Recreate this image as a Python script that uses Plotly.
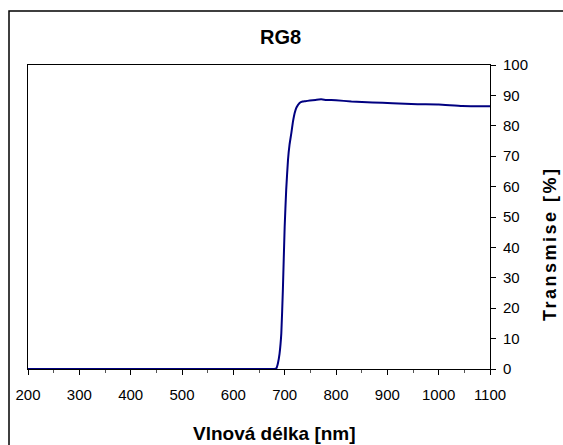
import plotly.graph_objects as go

# Data
wavelength = [200, 300, 400, 500, 600, 650, 680, 684, 687, 690, 693.5, 696.5, 700, 703,
              706.5, 709.5, 713, 716, 719.5, 723, 729, 735, 740, 749, 760, 771, 781,
              800, 830, 871, 910, 959, 1000, 1046, 1100]
transmission = [0, 0, 0, 0, 0, 0, 0, 0.3, 2, 5, 11.8, 26, 46.8, 59,
                68.8, 73.8, 77.6, 81.2, 84.2, 86.0, 87.5, 88.0, 88.1, 88.3, 88.5, 88.7, 88.5,
                88.4, 88.0, 87.7, 87.4, 87.1, 87.0, 86.5, 86.4]

title_text = "RG8"
x_title = "Vlnová délka [nm]"
y_title = "Transmise [%]"

W, H = 563, 445
L, R, T, B = 28, 490, 65, 369  # plot area pixels

def px(x):
    return (x - L) / (R - L)

def py(y):
    return (B - y) / (B - T)

fig = go.Figure()
fig.add_trace(go.Scatter(x=wavelength, y=transmission, mode="lines",
                         line=dict(color="#000080", width=2, shape="spline", smoothing=0.4),
                         showlegend=False))

font_family = "Liberation Sans, Arial, sans-serif"

fig.update_layout(
    width=W, height=H,
    margin=dict(l=L, r=W - R, t=T, b=H - B, pad=0),
    paper_bgcolor="white", plot_bgcolor="white",
    font=dict(family=font_family, color="black", size=15),
    xaxis=dict(range=[200, 1100], tickvals=list(range(200, 1101, 100)),
               ticks="outside", ticklen=5, tickwidth=1, tickcolor="black",
               showline=True, linecolor="black", linewidth=1, mirror=True,
               showgrid=False, zeroline=False,
               minor=dict(dtick=50, tick0=200, ticks="outside", ticklen=3, tickcolor="#555"),
               tickfont=dict(size=15), ticklabelstandoff=7),
    yaxis=dict(range=[0, 100], tickvals=list(range(0, 101, 10)), side="right",
               ticks="outside", ticklen=5, tickwidth=1, tickcolor="black",
               showline=True, linecolor="black", linewidth=1, mirror=True,
               showgrid=False, zeroline=False, tickfont=dict(size=15),
               ticklabelstandoff=4),
    shapes=[dict(type="rect", xref="paper", yref="paper",
                 x0=px(9), x1=px(566), y0=py(448), y1=py(11),
                 line=dict(color="black", width=1.5), layer="below")],
    annotations=[
        dict(text="<b>" + title_text + "</b>", xref="paper", yref="paper",
             x=px(280), y=py(36.5), showarrow=False, xanchor="center", yanchor="middle",
             font=dict(size=20)),
        dict(text="<b>" + x_title + "</b>", xref="paper", yref="paper",
             x=px(274), y=py(433), showarrow=False, xanchor="center", yanchor="middle",
             font=dict(size=19)),
        dict(text='<span style="letter-spacing:2.5px"><b>' + y_title + "</b></span>",
             xref="paper", yref="paper",
             x=px(550), y=py(244), showarrow=False, xanchor="center", yanchor="middle",
             textangle=-90, font=dict(size=18)),
    ],
)

fig.write_html("out.html")
